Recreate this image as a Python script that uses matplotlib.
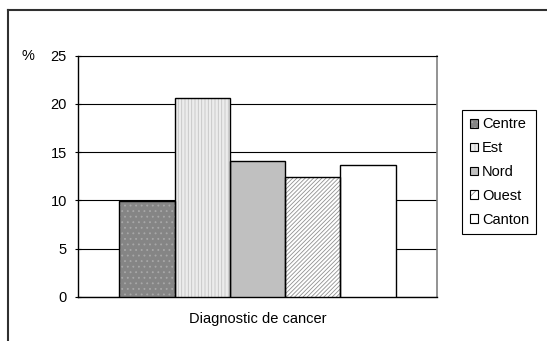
import matplotlib.pyplot as plt
from matplotlib.patches import Patch
from matplotlib.lines import Line2D

plt.rcParams['font.family'] = ['Liberation Sans', 'DejaVu Sans']
plt.rcParams['font.size'] = 10.5
plt.rcParams['hatch.linewidth'] = 0.6

regions = ['Centre', 'Est', 'Nord', 'Ouest', 'Canton']
pct = [9.9, 20.6, 14.1, 12.4, 13.7]
category = 'Diagnostic de cancer'
yticks = [0, 5, 10, 15, 20, 25]

# fill colour, hatch, hatch colour for each region
fills = ['#858585', '#ececec', '#c0c0c0', '#ffffff', '#ffffff']
hatches = ['...', '|||||', '', '////////', '']
hatch_cols = ['#a8a8a8', '#c4c4c4', '#c0c0c0', '#909090', '#ffffff']

W, H = 547, 341
fig = plt.figure(figsize=(W / 100, H / 100), dpi=100)
ax = fig.add_axes([78 / W, 1 - 297 / H, (437 - 78) / W, (297 - 55.7) / H])

bw = 0.154
handles = []
for i, (name, v) in enumerate(zip(regions, pct)):
    x = (i - 2) * bw
    ax.bar(x, v, width=bw, color=fills[i], hatch=hatches[i],
           edgecolor=hatch_cols[i], linewidth=0, zorder=3)
    ax.bar(x, v, width=bw, fill=False, edgecolor='black',
           linewidth=1.0, zorder=4)
    handles.append((Patch(facecolor=fills[i], hatch=hatches[i][:3],
                          edgecolor=hatch_cols[i], linewidth=0),
                    Patch(fill=False, edgecolor='black', linewidth=0.8)))

ax.set_xlim(-0.5, 0.5)
ax.set_ylim(0, 25)
ax.set_yticks(yticks)
ax.set_xticks([0])
ax.set_xticklabels([category])
ax.tick_params(axis='x', length=0, pad=11)
ax.tick_params(axis='y', length=4, width=0.8, direction='inout', pad=6)
ax.yaxis.grid(True, color='black', linewidth=0.8, zorder=0)
ax.set_axisbelow(True)
for s in ['left', 'bottom']:
    ax.spines[s].set_linewidth(1.0)
ax.spines['top'].set_linewidth(0.8)
ax.spines['right'].set_color('#808080')
ax.spines['right'].set_linewidth(1.2)

fig.text(28 / W, 1 - 56 / H, '%', ha='center', va='center')

# outer frame (top and left edges)
fig.add_artist(Line2D([8 / W, 1], [1 - 10 / H, 1 - 10 / H], color='#303030', lw=1.5))
fig.add_artist(Line2D([8 / W, 8 / W], [0, 1 - 10 / H], color='#303030', lw=1.5))

leg = fig.legend(handles, regions, loc='upper left',
                 bbox_to_anchor=(462.3 / W, 1 - 110 / H), borderaxespad=0,
                 fancybox=False, framealpha=1, edgecolor='black',
                 handlelength=0.55, handleheight=0.55, handletextpad=0.3,
                 labelspacing=0.68, borderpad=0.5)
leg.get_frame().set_linewidth(0.8)

fig.savefig('out.png', dpi=100)
